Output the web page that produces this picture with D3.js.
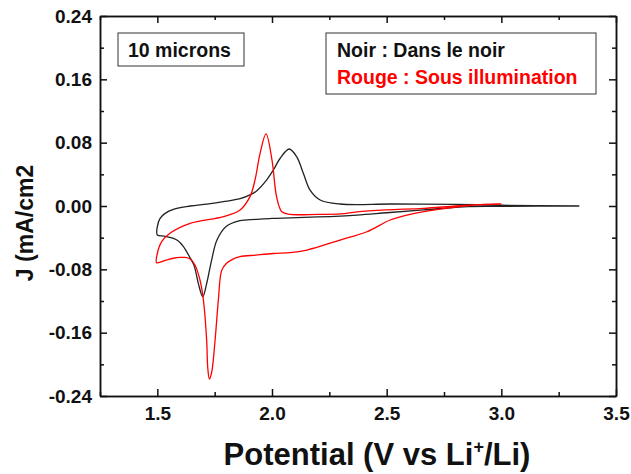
<!DOCTYPE html>
<html>
<head>
<meta charset="utf-8">
<script src="https://cdn.jsdelivr.net/npm/d3@7"></script>
<style>
  body { margin: 0; background: #fff; }
  text { font-family: "Liberation Sans", Arial, sans-serif; font-weight: bold; }
</style>
</head>
<body>
<div id="viz"></div>
<script>
// Noir : dans le noir (cathodic sweep 3.34 -> 1.5 then back)
const noirV = [3.34, 3.0, 2.835, 2.66, 2.5, 2.37, 2.2, 2.08, 2.0, 1.93, 1.86, 1.80, 1.76, 1.737, 1.715, 1.698,
               1.679, 1.66, 1.64, 1.613, 1.59, 1.57, 1.53, 1.50,
               1.50, 1.512, 1.534, 1.57, 1.643, 1.716, 1.788, 1.861, 1.904, 1.934, 1.977, 2.006, 2.035, 2.075,
               2.108, 2.137, 2.166, 2.21, 2.297, 2.52, 2.8, 3.0, 3.34]
const noirJ = [0.0, -0.0005, -0.001, -0.005, -0.0085, -0.0114, -0.0138, -0.015, -0.0156, -0.017, -0.0186, -0.026, -0.043, -0.068, -0.098, -0.1145,
               -0.098, -0.075, -0.064, -0.051, -0.044, -0.041, -0.038, -0.0366,
               -0.026, -0.0156, -0.0093, -0.0042, 0.0, 0.0025, 0.0055, 0.0093, 0.014, 0.0194, 0.033, 0.0455, 0.060, 0.072,
               0.062, 0.041, 0.020, 0.0076, 0.0025, 0.0025, 0.002, 0.001, 0.0]

// Rouge : sous illumination
const rougeV = [3.0, 2.922, 2.733, 2.588, 2.515, 2.414, 2.297, 2.152, 2.079, 2.006, 1.93, 1.861, 1.83, 1.802, 1.781,
                1.766, 1.752, 1.737, 1.727, 1.72, 1.715, 1.701, 1.686, 1.664, 1.643, 1.62, 1.599, 1.57, 1.541, 1.497,
                1.50, 1.519, 1.555, 1.643, 1.788, 1.861, 1.904, 1.926, 1.948, 1.974, 2.0, 2.02, 2.043, 2.079,
                2.2, 2.3, 2.37, 2.5, 2.66, 2.8, 2.88, 3.0]
const rougeJ = [0.0025, 0.002, -0.004, -0.0114, -0.0177, -0.0325, -0.043, -0.0556, -0.059, -0.060, -0.062, -0.064, -0.067, -0.0724, -0.081,
                -0.119, -0.169, -0.21, -0.2185, -0.205, -0.169, -0.119, -0.0935, -0.0745, -0.067, -0.065, -0.065, -0.066, -0.068, -0.0716,
                -0.060, -0.045, -0.0345, -0.022, -0.0135, -0.005, 0.0118, 0.033, 0.0665, 0.091, 0.058, 0.0118, -0.0072, -0.0105,
                -0.0105, -0.010, -0.0075, -0.005, -0.003, 0.0, 0.0013, 0.0025]

const xTicks = [1.5, 2.0, 2.5, 3.0, 3.5]
const xMinor = [1.25, 1.75, 2.25, 2.75, 3.25]
const yTicks = [-0.24, -0.16, -0.08, 0.0, 0.08, 0.16, 0.24]
const yMinor = [-0.2, -0.12, -0.04, 0.04, 0.12, 0.2]

let width = 631,
    height = 474;

let plotLeft = 100, plotRight = 616, plotTop = 16, plotBottom = 396

let xScale = d3.scaleLinear().domain([1.25, 3.5]).range([plotLeft, plotRight])
let yScale = d3.scaleLinear().domain([-0.24, 0.24]).range([plotBottom, plotTop])

let svg = d3.select('#viz')
            .append('svg')
            .attr('width', width)
            .attr('height', height)
            .style('background', '#fff')

// curves
let line = d3.line()
             .x(d => xScale(d[0]))
             .y(d => yScale(d[1]))
             .curve(d3.curveCatmullRom.alpha(0.5))

svg.append('path')
   .datum(noirV.map((v, i) => [v, noirJ[i]]))
   .attr('d', line)
   .style('fill', 'none')
   .style('stroke', '#222')
   .style('stroke-width', 1.3)

svg.append('path')
   .datum(rougeV.map((v, i) => [v, rougeJ[i]]))
   .attr('d', line)
   .style('fill', 'none')
   .style('stroke', '#ff0000')
   .style('stroke-width', 1.3)

// axes, ticks pointing inward
function styleAxis(g) {
  g.selectAll('path, line').style('stroke', '#111').style('stroke-width', 1.5)
  g.selectAll('text').style('font-size', '19px').style('fill', '#111')
}

svg.append('g').attr('transform', `translate(0,${plotBottom})`)
   .call(d3.axisBottom(xScale).tickValues(xTicks).tickSize(-7).tickSizeOuter(0).tickPadding(11).tickFormat(d => d.toFixed(1)))
   .call(styleAxis)
svg.append('g').attr('transform', `translate(0,${plotBottom})`)
   .call(d3.axisBottom(xScale).tickValues(xMinor).tickSize(-4).tickSizeOuter(0).tickFormat(''))
   .call(styleAxis)
svg.append('g').attr('transform', `translate(0,${plotTop})`)
   .call(d3.axisTop(xScale).tickValues(xTicks).tickSize(-7).tickSizeOuter(0).tickFormat(''))
   .call(styleAxis)
svg.append('g').attr('transform', `translate(0,${plotTop})`)
   .call(d3.axisTop(xScale).tickValues(xMinor).tickSize(-4).tickSizeOuter(0).tickFormat(''))
   .call(styleAxis)

svg.append('g').attr('transform', `translate(${plotLeft},0)`)
   .call(d3.axisLeft(yScale).tickValues(yTicks).tickSize(-7).tickSizeOuter(0).tickPadding(8).tickFormat(d => d.toFixed(2)))
   .call(styleAxis)
svg.append('g').attr('transform', `translate(${plotLeft},0)`)
   .call(d3.axisLeft(yScale).tickValues(yMinor).tickSize(-4).tickSizeOuter(0).tickFormat(''))
   .call(styleAxis)
svg.append('g').attr('transform', `translate(${plotRight},0)`)
   .call(d3.axisRight(yScale).tickValues(yTicks).tickSize(-7).tickSizeOuter(0).tickFormat(''))
   .call(styleAxis)
svg.append('g').attr('transform', `translate(${plotRight},0)`)
   .call(d3.axisRight(yScale).tickValues(yMinor).tickSize(-4).tickSizeOuter(0).tickFormat(''))
   .call(styleAxis)

// axis titles
svg.append('text')
   .attr('transform', 'translate(33,223) rotate(-90)')
   .attr('text-anchor', 'middle')
   .style('font-size', '23px')
   .style('fill', '#111')
   .text('J (mA/cm2')

let xt = svg.append('text')
   .attr('x', 377)
   .attr('y', 465)
   .attr('text-anchor', 'middle')
   .style('font-size', '31px')
   .style('fill', '#111')
xt.append('tspan').text('Potential (V vs Li')
xt.append('tspan').attr('dy', -12).style('font-size', '18px').text('+')
xt.append('tspan').attr('dy', 12).text('/Li)')

// annotation boxes
svg.append('rect')
   .attr('x', 118).attr('y', 33).attr('width', 126).attr('height', 33)
   .style('fill', '#fff').style('stroke', '#333').style('stroke-width', 1)
svg.append('text')
   .attr('x', 128).attr('y', 57)
   .style('font-size', '19.5px').style('fill', '#111')
   .text('10 microns')

svg.append('rect')
   .attr('x', 326).attr('y', 33).attr('width', 270).attr('height', 61)
   .style('fill', '#fff').style('stroke', '#333').style('stroke-width', 1)
svg.append('text')
   .attr('x', 337).attr('y', 57)
   .style('font-size', '19.5px').style('fill', '#111')
   .text('Noir : Dans le noir')
svg.append('text')
   .attr('x', 337).attr('y', 84)
   .style('font-size', '19.5px').style('fill', '#ff0000')
   .text('Rouge : Sous illumination')
</script>
</body>
</html>
